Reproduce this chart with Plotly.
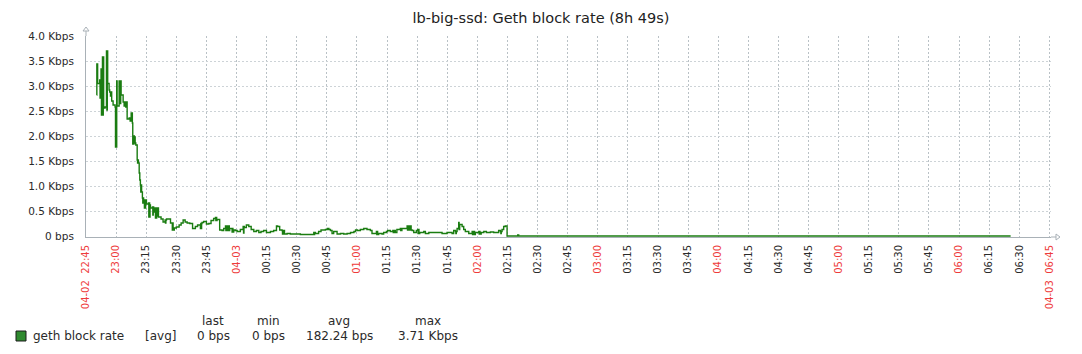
import pandas as pd
import plotly.graph_objects as go

# ---------------- data ----------------
BASE = pd.Timestamp("2024-04-02 22:45:00")

# minutes after 22:45 (step sample times)
minutes = [
    5.3, 5.4, 5.8, 6.8, 7.0, 7.2, 7.35, 7.5, 7.7, 7.9, 8.05, 8.2, 8.4, 8.6, 8.8, 9.5,
    10.2, 10.4, 10.6, 10.8, 11.5, 11.8, 12.2, 12.5, 12.8, 13.5, 14.5, 14.7, 14.9, 15.1,
    15.3, 15.5, 16.5, 16.7, 16.9, 17.1, 17.3, 17.5, 18.5, 19.0, 19.5, 19.8, 20.1, 20.5,
    21.5, 22.0, 22.5, 23.1, 23.3, 23.5, 23.7, 23.9, 24.1, 24.3, 24.5, 24.8, 25.5, 25.7,
    25.9, 26.1, 26.5, 26.8, 27.1, 27.3, 27.5, 27.7, 28.1, 28.3, 28.5, 28.7, 28.8, 29.1,
    29.3, 29.5, 29.7, 30.1, 31.1, 31.3, 31.5, 31.7, 31.9, 32.1, 33.1, 33.3, 33.5, 33.7,
    34.4, 34.6, 34.8, 35.0, 35.2, 35.5, 35.8, 36.1, 37.4, 38.4, 39.4, 39.6, 39.8, 40.1,
    42.1, 43.0, 43.2, 43.4, 44.0, 45.0, 46.4, 47.4, 48.4, 49.4, 50.4, 51.7, 53.1, 54.5,
    55.6, 57.0, 57.2, 57.4, 57.6, 57.8, 58.6, 60.0, 61.2, 62.3, 63.6, 64.5, 64.7, 64.9,
    65.1, 65.3, 66.6, 67.8, 68.6, 69.5, 69.7, 69.9, 70.2, 70.5, 70.8, 71.1, 71.4, 71.6,
    72.8, 73.0, 73.2, 73.6, 74.4, 75.3, 76.9, 78.3, 78.5, 78.7, 78.9, 79.9, 81.1, 82.3,
    83.6, 84.9, 86.1, 87.2, 88.5, 89.9, 91.9, 93.5, 94.9, 95.5, 96.5, 97.7, 97.9, 98.1,
    98.3, 98.5, 98.9, 100.2, 101.8, 106.8, 113.5, 113.7, 113.9, 114.3, 115.9, 117.1,
    119.3, 120.3, 121.0, 121.8, 122.6, 123.4, 125.1, 126.8, 128.4, 130.1, 131.8, 133.5,
    134.3, 135.2, 136.7, 138.4, 140.0, 141.7, 142.5, 144.7, 144.9, 145.1, 145.3, 145.8,
    147.5, 148.3, 149.7, 150.3, 151.6, 152.9, 153.1, 153.3, 153.5, 153.8, 154.1, 154.9,
    156.6, 156.8, 157.0, 157.2, 157.4, 160.0, 160.2, 160.4, 160.6, 160.8, 161.0, 161.2,
    161.6, 161.8, 162.0, 162.5, 163.3, 164.6, 165.3, 165.5, 165.7, 165.9, 166.3, 168.3,
    169.1, 170.8, 177.4, 179.9, 182.4, 183.2, 184.1, 184.3, 184.5, 184.9, 185.7, 185.9,
    186.2, 187.4, 188.2, 189.0, 190.7, 192.4, 192.6, 192.8, 193.0, 193.3, 193.6, 194.0,
    195.7, 195.9, 196.1, 196.3, 196.9, 198.2, 199.5, 201.5, 203.1, 205.6, 206.5, 206.7,
    206.9, 207.3, 208.1, 208.9, 209.8, 215.1, 215.6, 460.7,
]

# geth block rate, Kbps
rate_kbps = [
    2.82, 3.44, 3.05, 3.12, 2.76, 3.12, 2.76, 3.34, 2.42, 3.34, 2.42, 3.58, 2.42, 3.58, 2.56, 2.58,
    3.70, 2.52, 3.70, 3.05, 2.92, 2.88, 2.80, 2.88, 2.70, 2.62, 2.58, 1.78, 2.58, 1.78,
    3.10, 2.60, 3.10, 2.65, 3.10, 2.65, 3.10, 2.82, 2.68, 2.60, 2.68, 2.58, 2.68, 2.34,
    2.36, 2.30, 2.46, 2.26, 1.84, 2.00, 1.84, 2.00, 1.86, 1.98, 1.86, 1.82, 1.52, 1.46,
    1.52, 1.46, 1.26, 1.12, 1.02, 0.88, 1.02, 0.88, 0.76, 0.66, 0.76, 0.66, 0.72, 0.56,
    0.72, 0.56, 0.72, 0.64, 0.66, 0.38, 0.66, 0.38, 0.62, 0.56, 0.58, 0.42, 0.58, 0.48,
    0.56, 0.36, 0.56, 0.36, 0.56, 0.40, 0.56, 0.38, 0.34, 0.28, 0.32, 0.26, 0.32, 0.34,
    0.26, 0.12, 0.26, 0.12, 0.16, 0.18, 0.22, 0.26, 0.32, 0.28, 0.26, 0.25, 0.15, 0.19,
    0.22, 0.15, 0.25, 0.15, 0.25, 0.27, 0.29, 0.24, 0.25, 0.31, 0.35, 0.37, 0.31, 0.37,
    0.31, 0.33, 0.12, 0.11, 0.15, 0.20, 0.11, 0.20, 0.11, 0.20, 0.11, 0.20, 0.11, 0.15,
    0.08, 0.15, 0.08, 0.12, 0.11, 0.09, 0.13, 0.19, 0.06, 0.19, 0.17, 0.22, 0.19, 0.13,
    0.09, 0.11, 0.07, 0.09, 0.11, 0.07, 0.09, 0.11, 0.20, 0.19, 0.12, 0.11, 0.04, 0.11,
    0.04, 0.11, 0.04, 0.05, 0.04, 0.03, 0.07, 0.03, 0.07, 0.05, 0.09, 0.12,
    0.13, 0.15, 0.13, 0.11, 0.05, 0.09, 0.04, 0.05, 0.04, 0.05, 0.07, 0.09,
    0.12, 0.11, 0.13, 0.15, 0.13, 0.11, 0.05, 0.09, 0.03, 0.09, 0.03, 0.05,
    0.04, 0.07, 0.09, 0.11, 0.09, 0.11, 0.07, 0.11, 0.07, 0.11, 0.07, 0.13,
    0.15, 0.11, 0.15, 0.11, 0.15, 0.20, 0.12, 0.20, 0.12, 0.20, 0.12, 0.20,
    0.12, 0.20, 0.12, 0.11, 0.07, 0.11, 0.13, 0.05, 0.13, 0.05, 0.07, 0.09,
    0.05, 0.07, 0.05, 0.07, 0.05, 0.11, 0.09, 0.05, 0.09, 0.15, 0.27, 0.13,
    0.23, 0.19, 0.13, 0.09, 0.05, 0.09, 0.03, 0.09, 0.03, 0.09, 0.03, 0.07,
    0.09, 0.04, 0.09, 0.04, 0.07, 0.09, 0.07, 0.08, 0.07, 0.11, 0.09, 0.05,
    0.09, 0.13, 0.19, 0.20, 0.00, 0.02, 0.00, 0.00,
]

y_tick_values = [0, 0.5, 1.0, 1.5, 2.0, 2.5, 3.0, 3.5, 4.0]
y_tick_labels = ["0 bps", "0.5 Kbps", "1.0 Kbps", "1.5 Kbps", "2.0 Kbps",
                 "2.5 Kbps", "3.0 Kbps", "3.5 Kbps", "4.0 Kbps"]

x_tick_labels = [
    "04-02  22:45", "23:00", "23:15", "23:30", "23:45", "04-03", "00:15", "00:30", "00:45",
    "01:00", "01:15", "01:30", "01:45", "02:00", "02:15", "02:30", "02:45", "03:00",
    "03:15", "03:30", "03:45", "04:00", "04:15", "04:30", "04:45", "05:00", "05:15",
    "05:30", "05:45", "06:00", "06:15", "06:30", "04-03  06:45",
]

legend_name = "geth block rate"
legend_func = "[avg]"
stat_headers = ["last", "min", "avg", "max"]
stat_values = ["0 bps", "0 bps", "182.24 bps", "3.71 Kbps"]
title_text = "lb-big-ssd: Geth block rate (8h 49s)"

# ---------------- figure ----------------
W_PX, H_PX = 1082, 354
L, T, R_EDGE, B_EDGE = 86, 36, 1051, 237
ZERO_PX = 236
PW, PH = R_EDGE - L, B_EDGE - T
Y_MIN = -0.02  # one pixel of room below zero so the flat zero line stays visible


def px2x(px):
    return (px - L) / PW


def py2y(py):
    return (B_EDGE - py) / PH


FONT = "DejaVu Sans"
RED = "#ee3b3b"
TXT = "#2a2a2a"
AXIS = "#a9b1b7"

x_times = BASE + pd.to_timedelta(minutes, unit="m")
tick_times = [BASE + pd.Timedelta(minutes=15 * i) for i in range(len(x_tick_labels))]
tick_text = []
for i, (tt, lab) in enumerate(zip(tick_times, x_tick_labels)):
    if tt.minute == 0 or i == 0 or i == len(x_tick_labels) - 1:
        tick_text.append(f"<span style='color:{RED}'>{lab}</span>")
    else:
        tick_text.append(lab)

fig = go.Figure()
fig.add_trace(go.Scatter(
    x=x_times, y=rate_kbps, mode="lines", line=dict(color="#1a7c11", width=1.4, shape="hv"),
    name=legend_name, showlegend=False, hoverinfo="skip",
))

fig.update_layout(
    width=W_PX, height=H_PX,
    margin=dict(l=L, r=W_PX - R_EDGE, t=T, b=H_PX - B_EDGE, pad=0),
    paper_bgcolor="white", plot_bgcolor="white",
    font=dict(family=FONT, color=TXT),
    title=dict(text=title_text, x=0.5, xref="container", xanchor="center",
               y=1 - 18 / H_PX, yref="container", yanchor="middle",
               font=dict(size=14.5, color="#222222", family=FONT)),
    showlegend=False,
)

fig.update_xaxes(
    range=[BASE, BASE + pd.Timedelta(minutes=480, seconds=49)],
    tickmode="array", tickvals=tick_times, ticktext=tick_text,
    tickangle=-90, tickfont=dict(size=10, color=TXT, family=FONT),
    showgrid=True, gridcolor="#b9c1c6", griddash="2px,2px", gridwidth=1,
    showline=True, linecolor=AXIS, linewidth=1, zeroline=False,
    ticks="", ticklabelstandoff=3, automargin=False, layer="below traces",
)
fig.update_yaxes(
    range=[Y_MIN, 4.0], tickmode="array", tickvals=y_tick_values, ticktext=y_tick_labels,
    tickfont=dict(size=10.5, color=TXT, family=FONT),
    showgrid=True, gridcolor="#cdd3d7", griddash="2px,2px", gridwidth=1,
    showline=True, linecolor=AXIS, linewidth=1, zeroline=False,
    ticks="", ticklabelstandoff=9, automargin=False, layer="below traces",
)

# axis arrows (hollow triangles)
fig.add_shape(type="path", xref="paper", yref="paper", xsizemode="pixel", ysizemode="pixel",
              xanchor=0, yanchor=1, path="M0,0 L0,5 M-3,5 L3,5 L0,9 Z",
              line=dict(color=AXIS, width=1), fillcolor="white")
fig.add_shape(type="path", xref="paper", yref="paper", xsizemode="pixel", ysizemode="pixel",
              xanchor=1, yanchor=0, path="M0,0 L5,0 M5,-3 L5,3 L9,0 Z",
              line=dict(color=AXIS, width=1), fillcolor="white")

# legend block
fig.add_shape(type="rect", xref="paper", yref="paper",
              x0=px2x(16), x1=px2x(26), y0=py2y(341), y1=py2y(331),
              fillcolor="#2f8a2f", line=dict(color="#1d1d1d", width=1))
fig.add_annotation(text=legend_name, xref="paper", yref="paper", x=px2x(31), y=py2y(336),
                   xanchor="left", yanchor="middle", showarrow=False,
                   font=dict(size=12, color=TXT, family=FONT))
fig.add_annotation(text=legend_func, xref="paper", yref="paper", x=px2x(160), y=py2y(336),
                   xanchor="center", yanchor="middle", showarrow=False,
                   font=dict(size=12, color=TXT, family=FONT))
stat_centers = [213, 268, 339, 428]
for cx, head, val in zip(stat_centers, stat_headers, stat_values):
    fig.add_annotation(text=head, xref="paper", yref="paper", x=px2x(cx), y=py2y(321),
                       xanchor="center", yanchor="middle", showarrow=False,
                       font=dict(size=12, color=TXT, family=FONT))
    fig.add_annotation(text=val, xref="paper", yref="paper", x=px2x(cx), y=py2y(336),
                       xanchor="center", yanchor="middle", showarrow=False,
                       font=dict(size=12, color=TXT, family=FONT))

fig.write_html("out.html")
